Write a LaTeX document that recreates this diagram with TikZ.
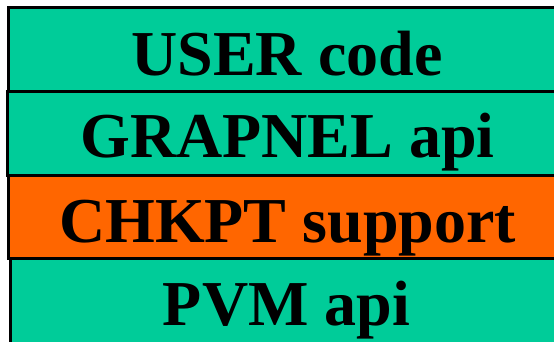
\documentclass[tikz,border=0pt]{standalone}
\usepackage{fontspec}
\setmainfont{Liberation Serif}
\definecolor{layergreen}{HTML}{00CC99}
\definecolor{layerorange}{HTML}{FF6600}
\begin{document}
\begin{tikzpicture}[x=1pt,y=-1pt,
  layer/.style={draw=black,line width=3pt,inner sep=0pt,outer sep=0pt,anchor=north west,minimum width=580pt},
  layertext/.style={font=\fontsize{64}{64}\selectfont\bfseries,anchor=base,inner sep=0pt,text=black}]
\useasboundingbox (0,0) rectangle (554,341);
\clip (0,0) rectangle (554,341);
\fill[white] (0,0) rectangle (554,341);
\node[layer,fill=layergreen,minimum height=84pt] (user) at (8.5,7.5) {};
\node[layer,fill=layergreen,minimum height=84pt] (grapnel) at (7.5,91.5) {};
\node[layer,fill=layerorange,minimum height=83pt] (chkpt) at (8.5,175.5) {};
\node[layer,fill=layergreen,minimum height=160pt] (pvm) at (10.5,258.5) {};
\node[layertext] (usertext) at (287,75) {USER code};
\node[layertext] (grapneltext) at (287.5,157) {GRAPNEL api};
\node[layertext] (chkpttext) at (287.5,242) {CHKPT support};
\node[layertext] (pvmtext) at (286.5,325) {PVM api};
\end{tikzpicture}
\end{document}
